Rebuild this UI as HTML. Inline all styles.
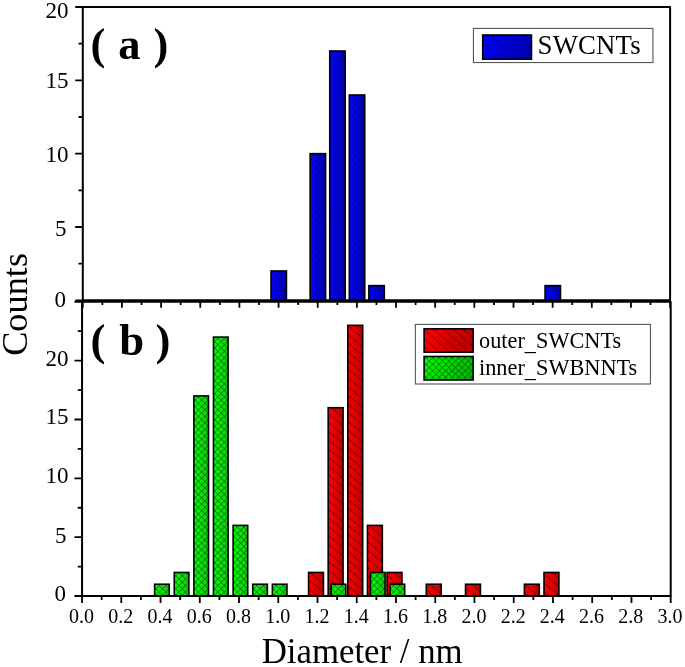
<!DOCTYPE html>
<html><head><meta charset="utf-8"><title>Diameter histogram</title>
<style>
html,body{margin:0;padding:0;background:#fff;}
body{width:685px;height:667px;overflow:hidden;}
svg{display:block;will-change:transform;}
text{font-family:"Liberation Serif",serif;fill:#000;}
</style></head><body>
<svg width="685" height="667" viewBox="0 0 685 667">
<defs>
<pattern id="hb" patternUnits="userSpaceOnUse" width="8" height="5.1" patternTransform="rotate(-46)">
  <line x1="0" y1="2.5" x2="8" y2="2.5" stroke="#000060" stroke-width="1.1" stroke-opacity="0.45"/>
</pattern>
<pattern id="hr" patternUnits="userSpaceOnUse" width="8" height="6.7" patternTransform="rotate(39.5)">
  <line x1="0" y1="3.3" x2="8" y2="3.3" stroke="#500000" stroke-width="1" stroke-opacity="0.68"/>
</pattern>
<pattern id="hg" patternUnits="userSpaceOnUse" width="4.6" height="4.6" patternTransform="rotate(45)">
  <path d="M0 2.3H4.6M2.3 0V4.6" stroke="#004000" stroke-width="0.75" stroke-opacity="0.62" fill="none"/>
</pattern>
<pattern id="hb2" patternUnits="userSpaceOnUse" width="8" height="6.2" patternTransform="rotate(-45)">
  <line x1="0" y1="3" x2="8" y2="3" stroke="#000060" stroke-width="1" stroke-opacity="0.5"/>
</pattern>
<pattern id="hr2" patternUnits="userSpaceOnUse" width="8" height="6.5" patternTransform="rotate(41)">
  <line x1="0" y1="3.2" x2="8" y2="3.2" stroke="#500000" stroke-width="0.9" stroke-opacity="0.65"/>
</pattern>
</defs>
<rect width="685" height="667" fill="#fff"/>

<g id="bars-a">
<linearGradient id="g1" gradientUnits="userSpaceOnUse" x1="271.02" y1="0" x2="286.42" y2="0"><stop offset="0" stop-color="#0404ff"/><stop offset="1" stop-color="#0000ac"/></linearGradient><rect x="271.02" y="270.97" width="15.40" height="29.33" fill="url(#g1)"/><rect x="271.02" y="270.97" width="15.40" height="29.33" fill="url(#hb)"/><rect x="271.02" y="270.97" width="15.40" height="29.33" fill="none" stroke="#000" stroke-width="1.6"/>
<linearGradient id="g2" gradientUnits="userSpaceOnUse" x1="310.17" y1="0" x2="325.57" y2="0"><stop offset="0" stop-color="#0404ff"/><stop offset="1" stop-color="#0000ac"/></linearGradient><rect x="310.17" y="153.65" width="15.40" height="146.65" fill="url(#g2)"/><rect x="310.17" y="153.65" width="15.40" height="146.65" fill="url(#hb)"/><rect x="310.17" y="153.65" width="15.40" height="146.65" fill="none" stroke="#000" stroke-width="1.6"/>
<linearGradient id="g3" gradientUnits="userSpaceOnUse" x1="329.75" y1="0" x2="345.15" y2="0"><stop offset="0" stop-color="#0404ff"/><stop offset="1" stop-color="#0000ac"/></linearGradient><rect x="329.75" y="51.00" width="15.40" height="249.31" fill="url(#g3)"/><rect x="329.75" y="51.00" width="15.40" height="249.31" fill="url(#hb)"/><rect x="329.75" y="51.00" width="15.40" height="249.31" fill="none" stroke="#000" stroke-width="1.6"/>
<linearGradient id="g4" gradientUnits="userSpaceOnUse" x1="349.32" y1="0" x2="364.72" y2="0"><stop offset="0" stop-color="#0404ff"/><stop offset="1" stop-color="#0000ac"/></linearGradient><rect x="349.32" y="94.99" width="15.40" height="205.31" fill="url(#g4)"/><rect x="349.32" y="94.99" width="15.40" height="205.31" fill="url(#hb)"/><rect x="349.32" y="94.99" width="15.40" height="205.31" fill="none" stroke="#000" stroke-width="1.6"/>
<linearGradient id="g5" gradientUnits="userSpaceOnUse" x1="368.90" y1="0" x2="384.30" y2="0"><stop offset="0" stop-color="#0404ff"/><stop offset="1" stop-color="#0000ac"/></linearGradient><rect x="368.90" y="285.63" width="15.40" height="14.67" fill="url(#g5)"/><rect x="368.90" y="285.63" width="15.40" height="14.67" fill="url(#hb)"/><rect x="368.90" y="285.63" width="15.40" height="14.67" fill="none" stroke="#000" stroke-width="1.6"/>
<linearGradient id="g6" gradientUnits="userSpaceOnUse" x1="545.09" y1="0" x2="560.49" y2="0"><stop offset="0" stop-color="#0404ff"/><stop offset="1" stop-color="#0000ac"/></linearGradient><rect x="545.09" y="285.63" width="15.40" height="14.67" fill="url(#g6)"/><rect x="545.09" y="285.63" width="15.40" height="14.67" fill="url(#hb)"/><rect x="545.09" y="285.63" width="15.40" height="14.67" fill="none" stroke="#000" stroke-width="1.6"/>
</g><g id="bars-b-red">
<linearGradient id="g7" gradientUnits="userSpaceOnUse" x1="308.56" y1="0" x2="323.46" y2="0"><stop offset="0" stop-color="#ff0000"/><stop offset="1" stop-color="#c00000"/></linearGradient><rect x="308.56" y="572.46" width="14.90" height="23.54" fill="url(#g7)"/><rect x="308.56" y="572.46" width="14.90" height="23.54" fill="url(#hr)"/><rect x="308.56" y="572.46" width="14.90" height="23.54" fill="none" stroke="#000" stroke-width="1.6"/>
<linearGradient id="g8" gradientUnits="userSpaceOnUse" x1="328.18" y1="0" x2="343.08" y2="0"><stop offset="0" stop-color="#ff0000"/><stop offset="1" stop-color="#c00000"/></linearGradient><rect x="328.18" y="407.71" width="14.90" height="188.29" fill="url(#g8)"/><rect x="328.18" y="407.71" width="14.90" height="188.29" fill="url(#hr)"/><rect x="328.18" y="407.71" width="14.90" height="188.29" fill="none" stroke="#000" stroke-width="1.6"/>
<linearGradient id="g9" gradientUnits="userSpaceOnUse" x1="347.80" y1="0" x2="362.70" y2="0"><stop offset="0" stop-color="#ff0000"/><stop offset="1" stop-color="#c00000"/></linearGradient><rect x="347.80" y="325.34" width="14.90" height="270.66" fill="url(#g9)"/><rect x="347.80" y="325.34" width="14.90" height="270.66" fill="url(#hr)"/><rect x="347.80" y="325.34" width="14.90" height="270.66" fill="none" stroke="#000" stroke-width="1.6"/>
<linearGradient id="g10" gradientUnits="userSpaceOnUse" x1="367.43" y1="0" x2="382.33" y2="0"><stop offset="0" stop-color="#ff0000"/><stop offset="1" stop-color="#c00000"/></linearGradient><rect x="367.43" y="525.39" width="14.90" height="70.61" fill="url(#g10)"/><rect x="367.43" y="525.39" width="14.90" height="70.61" fill="url(#hr)"/><rect x="367.43" y="525.39" width="14.90" height="70.61" fill="none" stroke="#000" stroke-width="1.6"/>
<linearGradient id="g11" gradientUnits="userSpaceOnUse" x1="387.05" y1="0" x2="401.95" y2="0"><stop offset="0" stop-color="#ff0000"/><stop offset="1" stop-color="#c00000"/></linearGradient><rect x="387.05" y="572.46" width="14.90" height="23.54" fill="url(#g11)"/><rect x="387.05" y="572.46" width="14.90" height="23.54" fill="url(#hr)"/><rect x="387.05" y="572.46" width="14.90" height="23.54" fill="none" stroke="#000" stroke-width="1.6"/>
<linearGradient id="g12" gradientUnits="userSpaceOnUse" x1="426.29" y1="0" x2="441.19" y2="0"><stop offset="0" stop-color="#ff0000"/><stop offset="1" stop-color="#c00000"/></linearGradient><rect x="426.29" y="584.23" width="14.90" height="11.77" fill="url(#g12)"/><rect x="426.29" y="584.23" width="14.90" height="11.77" fill="url(#hr)"/><rect x="426.29" y="584.23" width="14.90" height="11.77" fill="none" stroke="#000" stroke-width="1.6"/>
<linearGradient id="g13" gradientUnits="userSpaceOnUse" x1="465.53" y1="0" x2="480.43" y2="0"><stop offset="0" stop-color="#ff0000"/><stop offset="1" stop-color="#c00000"/></linearGradient><rect x="465.53" y="584.23" width="14.90" height="11.77" fill="url(#g13)"/><rect x="465.53" y="584.23" width="14.90" height="11.77" fill="url(#hr)"/><rect x="465.53" y="584.23" width="14.90" height="11.77" fill="none" stroke="#000" stroke-width="1.6"/>
<linearGradient id="g14" gradientUnits="userSpaceOnUse" x1="524.40" y1="0" x2="539.30" y2="0"><stop offset="0" stop-color="#ff0000"/><stop offset="1" stop-color="#c00000"/></linearGradient><rect x="524.40" y="584.23" width="14.90" height="11.77" fill="url(#g14)"/><rect x="524.40" y="584.23" width="14.90" height="11.77" fill="url(#hr)"/><rect x="524.40" y="584.23" width="14.90" height="11.77" fill="none" stroke="#000" stroke-width="1.6"/>
<linearGradient id="g15" gradientUnits="userSpaceOnUse" x1="544.02" y1="0" x2="558.92" y2="0"><stop offset="0" stop-color="#ff0000"/><stop offset="1" stop-color="#c00000"/></linearGradient><rect x="544.02" y="572.46" width="14.90" height="23.54" fill="url(#g15)"/><rect x="544.02" y="572.46" width="14.90" height="23.54" fill="url(#hr)"/><rect x="544.02" y="572.46" width="14.90" height="23.54" fill="none" stroke="#000" stroke-width="1.6"/>
</g><g id="bars-b-green">
<linearGradient id="g16" gradientUnits="userSpaceOnUse" x1="154.64" y1="0" x2="169.24" y2="0"><stop offset="0" stop-color="#04ff04"/><stop offset="1" stop-color="#14c814"/></linearGradient><rect x="154.64" y="584.23" width="14.60" height="11.77" fill="url(#g16)"/><rect x="154.64" y="584.23" width="14.60" height="11.77" fill="url(#hg)"/><rect x="154.64" y="584.23" width="14.60" height="11.77" fill="none" stroke="#000" stroke-width="1.6"/>
<linearGradient id="g17" gradientUnits="userSpaceOnUse" x1="174.26" y1="0" x2="188.86" y2="0"><stop offset="0" stop-color="#04ff04"/><stop offset="1" stop-color="#14c814"/></linearGradient><rect x="174.26" y="572.46" width="14.60" height="23.54" fill="url(#g17)"/><rect x="174.26" y="572.46" width="14.60" height="23.54" fill="url(#hg)"/><rect x="174.26" y="572.46" width="14.60" height="23.54" fill="none" stroke="#000" stroke-width="1.6"/>
<linearGradient id="g18" gradientUnits="userSpaceOnUse" x1="193.88" y1="0" x2="208.48" y2="0"><stop offset="0" stop-color="#04ff04"/><stop offset="1" stop-color="#14c814"/></linearGradient><rect x="193.88" y="395.94" width="14.60" height="200.06" fill="url(#g18)"/><rect x="193.88" y="395.94" width="14.60" height="200.06" fill="url(#hg)"/><rect x="193.88" y="395.94" width="14.60" height="200.06" fill="none" stroke="#000" stroke-width="1.6"/>
<linearGradient id="g19" gradientUnits="userSpaceOnUse" x1="213.50" y1="0" x2="228.10" y2="0"><stop offset="0" stop-color="#04ff04"/><stop offset="1" stop-color="#14c814"/></linearGradient><rect x="213.50" y="337.10" width="14.60" height="258.90" fill="url(#g19)"/><rect x="213.50" y="337.10" width="14.60" height="258.90" fill="url(#hg)"/><rect x="213.50" y="337.10" width="14.60" height="258.90" fill="none" stroke="#000" stroke-width="1.6"/>
<linearGradient id="g20" gradientUnits="userSpaceOnUse" x1="233.12" y1="0" x2="247.72" y2="0"><stop offset="0" stop-color="#04ff04"/><stop offset="1" stop-color="#14c814"/></linearGradient><rect x="233.12" y="525.39" width="14.60" height="70.61" fill="url(#g20)"/><rect x="233.12" y="525.39" width="14.60" height="70.61" fill="url(#hg)"/><rect x="233.12" y="525.39" width="14.60" height="70.61" fill="none" stroke="#000" stroke-width="1.6"/>
<linearGradient id="g21" gradientUnits="userSpaceOnUse" x1="252.75" y1="0" x2="267.35" y2="0"><stop offset="0" stop-color="#04ff04"/><stop offset="1" stop-color="#14c814"/></linearGradient><rect x="252.75" y="584.23" width="14.60" height="11.77" fill="url(#g21)"/><rect x="252.75" y="584.23" width="14.60" height="11.77" fill="url(#hg)"/><rect x="252.75" y="584.23" width="14.60" height="11.77" fill="none" stroke="#000" stroke-width="1.6"/>
<linearGradient id="g22" gradientUnits="userSpaceOnUse" x1="272.37" y1="0" x2="286.97" y2="0"><stop offset="0" stop-color="#04ff04"/><stop offset="1" stop-color="#14c814"/></linearGradient><rect x="272.37" y="584.23" width="14.60" height="11.77" fill="url(#g22)"/><rect x="272.37" y="584.23" width="14.60" height="11.77" fill="url(#hg)"/><rect x="272.37" y="584.23" width="14.60" height="11.77" fill="none" stroke="#000" stroke-width="1.6"/>
<linearGradient id="g23" gradientUnits="userSpaceOnUse" x1="331.23" y1="0" x2="345.83" y2="0"><stop offset="0" stop-color="#04ff04"/><stop offset="1" stop-color="#14c814"/></linearGradient><rect x="331.23" y="584.23" width="14.60" height="11.77" fill="url(#g23)"/><rect x="331.23" y="584.23" width="14.60" height="11.77" fill="url(#hg)"/><rect x="331.23" y="584.23" width="14.60" height="11.77" fill="none" stroke="#000" stroke-width="1.6"/>
<linearGradient id="g24" gradientUnits="userSpaceOnUse" x1="370.48" y1="0" x2="385.08" y2="0"><stop offset="0" stop-color="#04ff04"/><stop offset="1" stop-color="#14c814"/></linearGradient><rect x="370.48" y="572.46" width="14.60" height="23.54" fill="url(#g24)"/><rect x="370.48" y="572.46" width="14.60" height="23.54" fill="url(#hg)"/><rect x="370.48" y="572.46" width="14.60" height="23.54" fill="none" stroke="#000" stroke-width="1.6"/>
<linearGradient id="g25" gradientUnits="userSpaceOnUse" x1="390.10" y1="0" x2="404.70" y2="0"><stop offset="0" stop-color="#04ff04"/><stop offset="1" stop-color="#14c814"/></linearGradient><rect x="390.10" y="584.23" width="14.60" height="11.77" fill="url(#g25)"/><rect x="390.10" y="584.23" width="14.60" height="11.77" fill="url(#hg)"/><rect x="390.10" y="584.23" width="14.60" height="11.77" fill="none" stroke="#000" stroke-width="1.6"/>
</g>
<g id="axes" stroke="#000" fill="none" stroke-linecap="butt">
<rect x="82.8" y="7.0" width="587.30" height="293.30" stroke-width="2" stroke-linejoin="round"/>
<rect x="82.05" y="301.8" width="588.65" height="294.20" stroke-width="2" stroke-linejoin="round"/>
<path d="M75.20 300.30H82.80M78.50 263.64H82.80M75.20 226.98H82.80M78.50 190.31H82.80M75.20 153.65H82.80M78.50 116.99H82.80M75.20 80.33H82.80M78.50 43.66H82.80M75.20 7.00H82.80M82.80 300.30V307.80M102.38 300.30V304.90M121.95 300.30V307.80M141.53 300.30V304.90M161.11 300.30V307.80M180.68 300.30V304.90M200.26 300.30V307.80M219.84 300.30V304.90M239.41 300.30V307.80M258.99 300.30V304.90M278.57 300.30V307.80M298.14 300.30V304.90M317.72 300.30V307.80M337.30 300.30V304.90M356.87 300.30V307.80M376.45 300.30V304.90M396.03 300.30V307.80M415.60 300.30V304.90M435.18 300.30V307.80M454.76 300.30V304.90M474.33 300.30V307.80M493.91 300.30V304.90M513.49 300.30V307.80M533.06 300.30V304.90M552.64 300.30V307.80M572.22 300.30V304.90M591.79 300.30V307.80M611.37 300.30V304.90M630.95 300.30V307.80M650.52 300.30V304.90M670.10 300.30V307.80M74.45 596.00H82.05M77.75 566.58H82.05M74.45 537.16H82.05M77.75 507.74H82.05M74.45 478.32H82.05M77.75 448.90H82.05M74.45 419.48H82.05M77.75 390.06H82.05M74.45 360.64H82.05M77.75 331.22H82.05M74.45 301.80H82.05M82.05 596.00V602.90M101.67 596.00V599.90M121.29 596.00V602.90M140.92 596.00V599.90M160.54 596.00V602.90M180.16 596.00V599.90M199.78 596.00V602.90M219.40 596.00V599.90M239.02 596.00V602.90M258.65 596.00V599.90M278.27 596.00V602.90M297.89 596.00V599.90M317.51 596.00V602.90M337.13 596.00V599.90M356.75 596.00V602.90M376.38 596.00V599.90M396.00 596.00V602.90M415.62 596.00V599.90M435.24 596.00V602.90M454.86 596.00V599.90M474.48 596.00V602.90M494.11 596.00V599.90M513.73 596.00V602.90M533.35 596.00V599.90M552.97 596.00V602.90M572.59 596.00V599.90M592.21 596.00V602.90M611.84 596.00V599.90M631.46 596.00V602.90M651.08 596.00V599.90M670.70 596.00V602.90" stroke-width="1.8"/>
</g>
<g id="ylabels" font-size="23">
<text x="45.40" y="17.60">20</text>
<text x="45.50" y="87.80">15</text>
<text x="45.50" y="161.60">10</text>
<text x="54.90" y="236.20">5</text>
<text x="54.45" y="306.90">0</text>
<text x="45.40" y="366.00">20</text>
<text x="45.50" y="423.80">15</text>
<text x="45.50" y="482.90">10</text>
<text x="54.90" y="542.50">5</text>
<text x="54.45" y="600.60">0</text>
</g>
<g id="xlabels" font-size="20" text-anchor="middle">
<text x="81.45" y="622.6">0.0</text>
<text x="120.69" y="622.6">0.2</text>
<text x="159.94" y="622.6">0.4</text>
<text x="199.18" y="622.6">0.6</text>
<text x="238.42" y="622.6">0.8</text>
<text x="277.67" y="622.6">1.0</text>
<text x="316.91" y="622.6">1.2</text>
<text x="356.15" y="622.6">1.4</text>
<text x="395.40" y="622.6">1.6</text>
<text x="434.64" y="622.6">1.8</text>
<text x="473.88" y="622.6">2.0</text>
<text x="513.13" y="622.6">2.2</text>
<text x="552.37" y="622.6">2.4</text>
<text x="591.61" y="622.6">2.6</text>
<text x="630.86" y="622.6">2.8</text>
<text x="670.10" y="622.6">3.0</text>
</g>
<text x="362.2" y="662.5" font-size="34.8" text-anchor="middle">Diameter / nm</text>
<text transform="translate(26.9 304.4) rotate(-90)" font-size="36.3" text-anchor="middle">Counts</text>
<text x="90.5" y="58.6" font-size="44.5" font-weight="bold" word-spacing="1.9" xml:space="preserve">( a )</text>
<text x="90.6 105.5 119.3 144.2 155.4" y="355.1" font-size="44.8" font-weight="bold" xml:space="preserve">( b )</text>
<g id="legend-a">
<rect x="473.45" y="28.45" width="179.5" height="34.1" fill="#fff" stroke="#555" stroke-width="1.1"/>
<linearGradient id="g26" gradientUnits="userSpaceOnUse" x1="482.70" y1="35.00" x2="531.45" y2="59.20"><stop offset="0" stop-color="#0000ff"/><stop offset="1" stop-color="#0000b0"/></linearGradient><rect x="482.70" y="35.00" width="48.75" height="24.20" fill="url(#g26)"/><rect x="482.70" y="35.00" width="48.75" height="24.20" fill="url(#hb2)"/><rect x="482.70" y="35.00" width="48.75" height="24.20" fill="none" stroke="#000" stroke-width="1.6"/>
<text x="537.6" y="54.3" font-size="26.8" letter-spacing="0.15">SWCNTs</text>
</g>
<g id="legend-b">
<rect x="415.35" y="324.4" width="235.1" height="59.6" fill="#fff" stroke="#555" stroke-width="1.1"/>
<linearGradient id="g27" gradientUnits="userSpaceOnUse" x1="424.10" y1="328.80" x2="473.10" y2="352.20"><stop offset="0" stop-color="#ff0000"/><stop offset="1" stop-color="#b40000"/></linearGradient><rect x="424.10" y="328.80" width="49.00" height="23.40" fill="url(#g27)"/><rect x="424.10" y="328.80" width="49.00" height="23.40" fill="url(#hr2)"/><rect x="424.10" y="328.80" width="49.00" height="23.40" fill="none" stroke="#000" stroke-width="1.6"/>
<linearGradient id="g28" gradientUnits="userSpaceOnUse" x1="424.10" y1="356.50" x2="473.10" y2="380.00"><stop offset="0" stop-color="#00ff00"/><stop offset="1" stop-color="#08b008"/></linearGradient><rect x="424.10" y="356.50" width="49.00" height="23.50" fill="url(#g28)"/><rect x="424.10" y="356.50" width="49.00" height="23.50" fill="url(#hg)"/><rect x="424.10" y="356.50" width="49.00" height="23.50" fill="none" stroke="#000" stroke-width="1.6"/>
<text x="479" y="347.7" font-size="22.3">outer<tspan dy="2">_</tspan><tspan dy="-2">SWCNTs</tspan></text>
<text x="479" y="374.7" font-size="22.3">inner<tspan dy="2">_</tspan><tspan dy="-2">SWBNNTs</tspan></text>
</g>
</svg></body></html>
